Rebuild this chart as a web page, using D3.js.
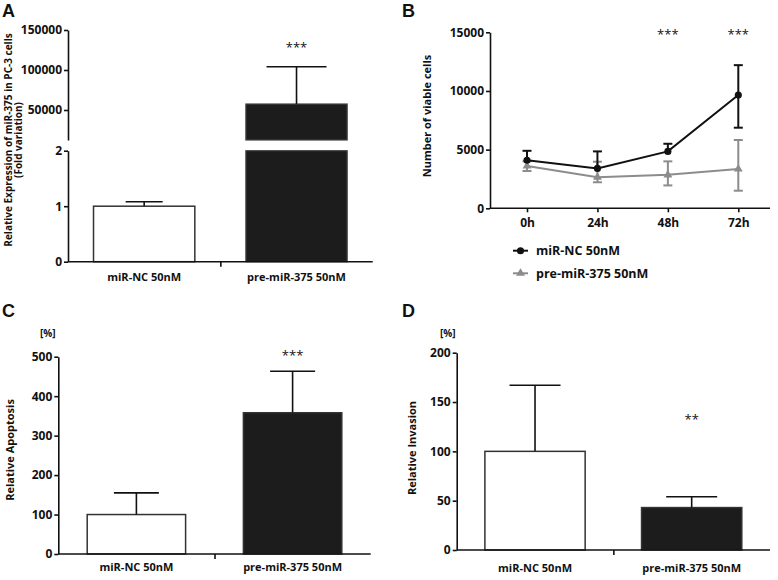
<!DOCTYPE html>
<html><head><meta charset="utf-8">
<script src="https://cdn.jsdelivr.net/npm/d3@7"></script>
<style>
body{margin:0;background:#fff}
svg{display:block}
text{font-family:"Open Sans",sans-serif;font-weight:700;fill:#111}
</style>
</head><body>
<svg id="c" width="778" height="580"></svg>
<script>
// ---------- data ----------
const groups = ["miR-NC 50nM", "pre-miR-375 50nM"];
// Panel A: relative expression (fold variation)
const exprMean = [1.0, 57500];
const exprErr = [0.08, 46500];
const exprTicksLow = [0, 1, 2];
const exprTicksHigh = [50000, 100000, 150000];
// Panel B: number of viable cells
const times = ["0h", "24h", "48h", "72h"];
const ncMean = [4100, 3400, 4850, 9650];
const ncErrUp = [800, 1450, 650, 2550];
const ncErrDown = [0, 0, 0, 2780];
const preMean = [3600, 2650, 2850, 3350];
const preErrUp = [400, 1320, 1150, 2470];
const preErrDown = [420, 430, 900, 1850];
const viableTicks = [0, 5000, 10000, 15000];
const viableStars = ["", "", "***", "***"];
// Panel C: relative apoptosis
const apoMean = [100, 358];
const apoErr = [55, 105];
const apoTicks = [0, 100, 200, 300, 400, 500];
// Panel D: relative invasion
const invMean = [100, 43];
const invErr = [67, 11];
const invTicks = [0, 50, 100, 150, 200];

// ---------- helpers ----------
const svg = d3.select("#c");
const INK = "#111";
const fills = ["#ffffff", "#1c1c1c"];

function styleAxis(g, fs) {
  g.selectAll("path,line").attr("stroke", INK).attr("stroke-width", 1.6);
  g.selectAll("text").attr("fill", INK).style("font-size", fs + "px")
    .style("font-family", '"Open Sans",sans-serif').style("font-weight", 700);
}
function panelLetter(t, x, y) {
  svg.append("text").attr("x", x).attr("y", y).text(t)
    .style("font-size", "18px").style("font-family", "Arial, 'Liberation Sans', sans-serif");
}
function yTitle(lines, cx, cy, fs) {
  lines.forEach((s, i) => {
    svg.append("text").attr("transform", `translate(${cx[i]},${cy}) rotate(-90)`)
      .attr("text-anchor", "middle").style("font-size", fs + "px").text(s);
  });
}
function bottomAxis(x, yAxis, pad) {
  const [a, b] = x.range();
  const g = svg.append("g").attr("transform", `translate(0,${yAxis})`)
    .call(d3.axisBottom(x).tickSize(0).tickPadding(pad).tickSizeOuter(0));
  styleAxis(g, 11);
  g.select(".domain").attr("d", `M${a},0H${b}`);
  // center divider tick
  const mid = d3.scaleLinear().domain([0, 1]).range([a, b]);
  const t = svg.append("g").attr("transform", `translate(0,${yAxis})`)
    .call(d3.axisBottom(mid).tickValues([0.5]).tickSize(5).tickFormat(""));
  t.select(".domain").remove();
  styleAxis(t, 11);
}
function errBar(cx, yTop, yBase, cap, w) {
  svg.append("line").attr("x1", cx).attr("x2", cx).attr("y1", yBase).attr("y2", yTop)
    .attr("stroke", INK).attr("stroke-width", w);
  svg.append("line").attr("x1", cx - cap / 2).attr("x2", cx + cap / 2).attr("y1", yTop).attr("y2", yTop)
    .attr("stroke", INK).attr("stroke-width", w);
}
function stars(t, x, y) {
  svg.append("text").attr("x", x).attr("y", y).attr("text-anchor", "middle")
    .style("font-size", "13px").style("font-weight", 400).text(t);
}

// ---------- Panel A ----------
(function () {
  const x0 = 68, x1 = 372.7, base = 261.7;
  const x = d3.scaleBand().domain(groups).range([x0, x1]).paddingInner(0.335).paddingOuter(0.1675);
  const yLow = d3.scaleLinear().domain([0, 2]).range([base, 150.7]);
  const yHigh = d3.scaleLinear().domain([12500, 150000]).range([140, 30]);
  const gl = svg.append("g").attr("transform", `translate(${x0},0)`)
    .call(d3.axisLeft(yLow).tickValues(exprTicksLow).tickSize(4).tickPadding(2).tickSizeOuter(0).tickFormat(d3.format("d")));
  styleAxis(gl, 12);
  const gh = svg.append("g").attr("transform", `translate(${x0},0)`)
    .call(d3.axisLeft(yHigh).tickValues(exprTicksHigh).tickSize(4).tickPadding(2).tickSizeOuter(0).tickFormat(d3.format("d")));
  styleAxis(gh, 12);
  groups.forEach((gname, i) => {
    const v = exprMean[i];
    const bx = x(gname), bw = x.bandwidth();
    if (v <= 2) {
      svg.append("rect").attr("x", bx).attr("y", yLow(v)).attr("width", bw).attr("height", yLow(0) - yLow(v))
        .attr("fill", fills[i]).attr("stroke", "#333").attr("stroke-width", 1.5);
      errBar(bx + bw / 2, yLow(v + exprErr[i]), yLow(v), 37, 1.6);
    } else {
      svg.append("rect").attr("x", bx).attr("y", yLow(2)).attr("width", bw).attr("height", yLow(0) - yLow(2))
        .attr("fill", fills[i]).attr("stroke", "#444").attr("stroke-width", 1.2);
      svg.append("rect").attr("x", bx).attr("y", yHigh(v)).attr("width", bw).attr("height", yHigh(12500) - yHigh(v))
        .attr("fill", fills[i]).attr("stroke", "#444").attr("stroke-width", 1.2);
      errBar(bx + bw / 2, yHigh(v + exprErr[i]), yHigh(v), 60, 1.6);
      stars("***", bx + bw / 2, 52);
    }
  });
  bottomAxis(x, base, 11.5);
  yTitle(["Relative Expression of miR-375 in PC-3 cells", "(Fold variation)"], [12, 21.5], 140, 10);
  panelLetter("A", 2, 17);
})();

// ---------- Panel B ----------
(function () {
  const x0 = 490, x1 = 770, base = 208.3;
  const x = d3.scalePoint().domain(times).range([527, 738.3]);
  const y = d3.scaleLinear().domain([0, 15000]).range([base, 32.3]);
  const gy = svg.append("g").attr("transform", `translate(${x0},0)`)
    .call(d3.axisLeft(y).tickValues(viableTicks).tickSize(4).tickPadding(2).tickSizeOuter(0).tickFormat(d3.format("d")));
  styleAxis(gy, 12);
  const gx = svg.append("g").attr("transform", `translate(0,${base})`)
    .call(d3.axisBottom(x).tickSize(4).tickPadding(6).tickSizeOuter(0));
  styleAxis(gx, 12);
  gx.select(".domain").attr("d", `M${x0},0H${x1}`);

  const series = [
    {mean: preMean, up: preErrUp, dn: preErrDown, color: "#8c8c8c", sym: d3.symbolTriangle, size: 34},
    {mean: ncMean, up: ncErrUp, dn: ncErrDown, color: "#111111", sym: d3.symbolCircle, size: 40}
  ];
  series.forEach(s => {
    times.forEach((t, i) => {
      const cx = x(t);
      [[s.up[i], 1], [s.dn[i], -1]].forEach(([e, dir]) => {
        if (e <= 0) return;
        const yt = y(s.mean[i] + dir * e);
        svg.append("line").attr("x1", cx).attr("x2", cx).attr("y1", y(s.mean[i])).attr("y2", yt)
          .attr("stroke", s.color).attr("stroke-width", 2);
        svg.append("line").attr("x1", cx - 4.5).attr("x2", cx + 4.5).attr("y1", yt).attr("y2", yt)
          .attr("stroke", s.color).attr("stroke-width", 2);
      });
    });
    const line = d3.line().x((d, i) => x(times[i])).y(d => y(d));
    svg.append("path").datum(s.mean).attr("d", line).attr("fill", "none")
      .attr("stroke", s.color).attr("stroke-width", 2);
    svg.selectAll(null).data(s.mean).enter().append("path")
      .attr("transform", (d, i) => `translate(${x(times[i])},${y(d)})`)
      .attr("d", d3.symbol().type(s.sym).size(s.size)).attr("fill", s.color);
  });
  times.forEach((t, i) => { if (viableStars[i]) stars(viableStars[i], x(t), 39); });
  yTitle(["Number of viable cells"], [431], 116, 11);
  // legend
  const leg = [
    {label: groups[0], color: "#111111", sym: d3.symbolCircle, size: 40, y: 250.7},
    {label: groups[1], color: "#8c8c8c", sym: d3.symbolTriangle, size: 34, y: 273.3}
  ];
  leg.forEach(l => {
    svg.append("line").attr("x1", 513).attr("x2", 528).attr("y1", l.y).attr("y2", l.y)
      .attr("stroke", l.color).attr("stroke-width", 2);
    svg.append("path").attr("transform", `translate(520.5,${l.y})`)
      .attr("d", d3.symbol().type(l.sym).size(l.size)).attr("fill", l.color);
    svg.append("text").attr("x", 536).attr("y", l.y + 4.5).style("font-size", "12.5px").text(l.label);
  });
  panelLetter("B", 402, 17);
})();

// ---------- Panel C & D ----------
function barPanel(opt) {
  const x = d3.scaleBand().domain(groups).range([opt.x0, opt.x1]).paddingInner(opt.pad).paddingOuter(opt.pad / 2);
  const y = d3.scaleLinear().domain([0, opt.max]).range([opt.base, opt.top]);
  const gy = svg.append("g").attr("transform", `translate(${opt.x0},0)`)
    .call(d3.axisLeft(y).tickValues(opt.ticks).tickSize(4).tickPadding(2).tickSizeOuter(0));
  styleAxis(gy, 12);
  groups.forEach((gname, i) => {
    const bx = x(gname), bw = x.bandwidth(), v = opt.mean[i];
    svg.append("rect").attr("x", bx).attr("y", y(v)).attr("width", bw).attr("height", y(0) - y(v))
      .attr("fill", fills[i]).attr("stroke", "#333").attr("stroke-width", 1.5);
    errBar(bx + bw / 2, y(v + opt.err[i]), y(v), opt.cap, 1.6);
    if (opt.stars[i]) stars(opt.stars[i], bx + bw / 2, opt.starY);
  });
  bottomAxis(x, opt.base, opt.labPad);
  yTitle([opt.title], [opt.titleX], opt.titleY, 11);
  svg.append("text").attr("x", opt.pctX).attr("y", 337).style("font-size", "10px").text("[%]");
  panelLetter(opt.letter, opt.letterX, 317);
}
barPanel({x0: 58.3, x1: 370.7, base: 554, top: 356.7, max: 500, ticks: apoTicks, mean: apoMean, err: apoErr,
  pad: 0.37, cap: 45, stars: ["", "***"], starY: 360, labPad: 9, title: "Relative Apoptosis", titleX: 13.5,
  titleY: 450, pctX: 40, letter: "C", letterX: 2});
barPanel({x0: 456.7, x1: 770, base: 550, top: 352.7, max: 200, ticks: invTicks, mean: invMean, err: invErr,
  pad: 0.36, cap: 51, stars: ["", "**"], starY: 424, labPad: 14, title: "Relative Invasion", titleX: 416,
  titleY: 448, pctX: 440, letter: "D", letterX: 402});
</script>
</body></html>
